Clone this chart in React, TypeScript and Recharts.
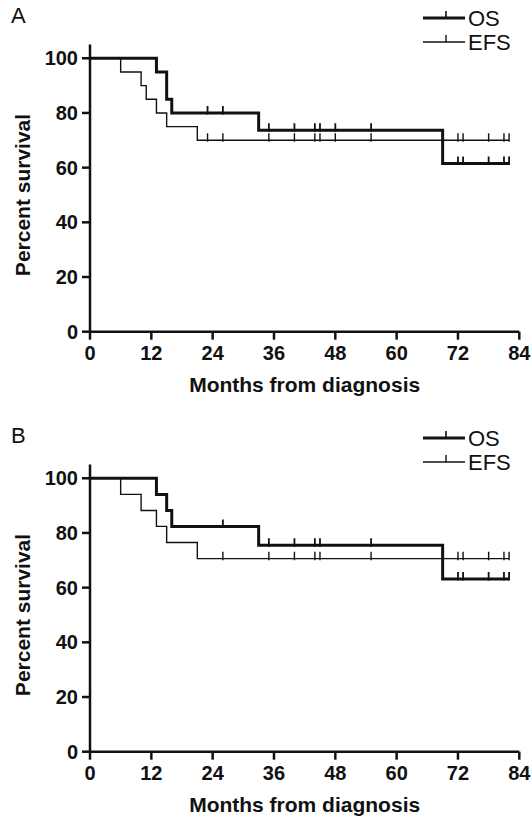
import React from 'react';
import { ComposedChart, Line, XAxis, YAxis, Label } from 'recharts';

// axis ticks
const monthTicks = [0, 12, 24, 36, 48, 60, 72, 84];
const pctTicks = [0, 20, 40, 60, 80, 100];

// panel A
const osTimeA = [0, 13, 15, 16, 33, 69, 82];
const osSurvA = [100, 95, 85, 80, 73.7, 61.5, 61.5];
const osCensA = [23, 26, 35, 40, 44, 45, 48, 55, 72, 73, 78, 81, 82];
const efsTimeA = [0, 6, 10, 11, 13, 15, 21, 82];
const efsSurvA = [100, 95, 90, 85, 80, 75, 70, 70];
const efsCensA = [23, 26, 35, 40, 44, 45, 48, 55, 72, 73, 78, 81, 82];

// panel B
const osTimeB = [0, 13, 15, 16, 33, 69, 82];
const osSurvB = [100, 94.1, 88.2, 82.4, 75.5, 63.2, 63.2];
const osCensB = [26, 35, 40, 44, 45, 55, 72, 73, 78, 81, 82];
const efsTimeB = [0, 6, 10, 13, 15, 21, 82];
const efsSurvB = [100, 94.1, 88.2, 82.4, 76.5, 70.6, 70.6];
const efsCensB = [26, 35, 40, 44, 45, 55, 72, 73, 78, 81, 82];

const FONT = '"Liberation Sans", Arial, sans-serif';
const INK = '#111';

type Pt = { t: number; s: number };

const steps = (times: number[], surv: number[]): Pt[] => times.map((t, i) => ({ t, s: surv[i] }));

// survival level at a censor time = last step at or before it
const censPts = (cens: number[], times: number[], surv: number[]): Pt[] =>
  cens.map((c) => {
    let s = surv[0];
    times.forEach((t, i) => { if (t <= c) s = surv[i]; });
    return { t: c, s };
  });

const censorMark = (w: number) => (p: any) => {
  const { cx, cy, index } = p;
  if (cx == null || cy == null) return <g key={`n-${index}`} />;
  return <line key={`c-${index}`} x1={cx} x2={cx} y1={cy - 7} y2={cy + 1.5} stroke={INK} strokeWidth={w} />;
};

const YTitle = () => (
  <text x={22} y={195} transform="rotate(-90 22 195)" textAnchor="middle" dominantBaseline="central"
    fontFamily={FONT} fontWeight={700} fontSize={21} fill={INK}>
    Percent survival
  </text>
);

interface PanelProps {
  letter: string;
  os: Pt[]; osC: Pt[];
  efs: Pt[]; efsC: Pt[];
}

const Panel: React.FC<PanelProps> = ({ letter, os, osC, efs, efsC }) => (
  <div style={{ position: 'relative', width: 532, height: 420 }}>
    <ComposedChart width={532} height={410} margin={{ top: 44.6, right: 12.7, bottom: 8.3, left: 30 }}>
      <XAxis type="number" dataKey="t" domain={[0, 84]} ticks={monthTicks} allowDataOverflow
        height={70} stroke={INK} strokeWidth={2.5} tickSize={8} tickMargin={6}
        tick={{ fill: INK, fontSize: 20, fontWeight: 700, fontFamily: FONT }}>
        <Label value="Months from diagnosis" position="insideBottom" offset={10}
          style={{ fill: INK, fontSize: 21, fontWeight: 700, fontFamily: FONT }} />
      </XAxis>
      <YAxis type="number" domain={[0, 105]} ticks={pctTicks} allowDataOverflow width={60}
        stroke={INK} strokeWidth={2.5} tickSize={8} tickMargin={4}
        tick={{ fill: INK, fontSize: 20, fontWeight: 700, fontFamily: FONT }}>
        <Label content={<YTitle />} />
      </YAxis>
      <Line data={efs} dataKey="s" type="stepAfter" stroke={INK} strokeWidth={1.4} dot={false}
        activeDot={false} isAnimationActive={false} />
      <Line data={os} dataKey="s" type="stepAfter" stroke={INK} strokeWidth={3} dot={false}
        activeDot={false} isAnimationActive={false} />
      <Line data={efsC} dataKey="s" stroke="none" dot={censorMark(1.4)} activeDot={false} isAnimationActive={false} />
      <Line data={osC} dataKey="s" stroke="none" dot={censorMark(1.8)} activeDot={false} isAnimationActive={false} />
    </ComposedChart>
    <svg width={532} height={70} style={{ position: 'absolute', left: 0, top: 0, pointerEvents: 'none' }}>
      <text x={11} y={23} fontFamily={FONT} fontSize={22} fill={INK}>{letter}</text>
      <line x1={423} x2={465} y1={18} y2={18} stroke={INK} strokeWidth={3} />
      <line x1={446} x2={446} y1={11} y2={18} stroke={INK} strokeWidth={1.6} />
      <text x={468} y={18} dominantBaseline="central" fontFamily={FONT} fontSize={22} fill={INK}>OS</text>
      <line x1={423} x2={465} y1={42} y2={42} stroke={INK} strokeWidth={1.4} />
      <line x1={446} x2={446} y1={35} y2={42} stroke={INK} strokeWidth={1.4} />
      <text x={468} y={42} dominantBaseline="central" fontFamily={FONT} fontSize={22} fill={INK}>EFS</text>
    </svg>
  </div>
);

export default function App() {
  return (
    <div style={{ position: 'absolute', left: 0, top: 0, width: 532, height: 820, background: '#fff' }}>
      <Panel letter="A"
        os={steps(osTimeA, osSurvA)} osC={censPts(osCensA, osTimeA, osSurvA)}
        efs={steps(efsTimeA, efsSurvA)} efsC={censPts(efsCensA, efsTimeA, efsSurvA)} />
      <Panel letter="B"
        os={steps(osTimeB, osSurvB)} osC={censPts(osCensB, osTimeB, osSurvB)}
        efs={steps(efsTimeB, efsSurvB)} efsC={censPts(efsCensB, efsTimeB, efsSurvB)} />
    </div>
  );
}
